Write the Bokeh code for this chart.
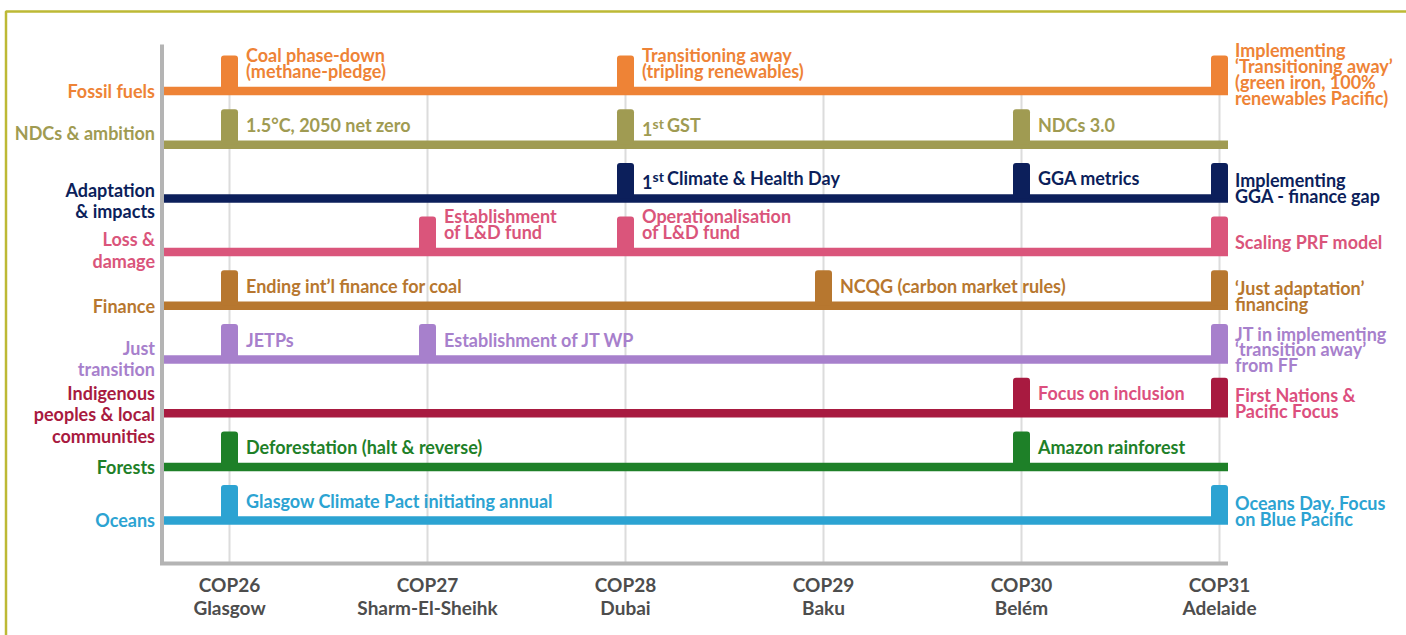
from bokeh.plotting import figure
from bokeh.models import Range1d
from bokeh.core.properties import value
from bokeh.embed import file_html
from bokeh.resources import INLINE

# ---------------- data ----------------
categories = ["Fossil fuels", "NDCs & ambition", "Adaptation\n& impacts", "Loss &\ndamage",
              "Finance", "Just\ntransition", "Indigenous\npeoples & local\ncommunities",
              "Forests", "Oceans"]
cat_colors = ["#EE8336", "#A09B52", "#0C1F5B", "#DA557B", "#B7772F",
              "#A780CC", "#A81A40", "#1E8028", "#2CA3D2"]
event_text_colors = ["#EE8336", "#A09B52", "#0C1F5B", "#DA557B", "#B7772F",
                     "#A780CC", "#DC4F7E", "#1E8028", "#2CA3D2"]

cops = [26, 27, 28, 29, 30, 31]
cop_labels = ["COP26\nGlasgow", "COP27\nSharm-El-Sheihk", "COP28\nDubai",
              "COP29\nBaku", "COP30\nBelém", "COP31\nAdelaide"]

event_cop = [26, 28, 31,
             26, 28, 30,
             28, 30, 31,
             27, 28, 31,
             26, 29, 31,
             26, 27, 31,
             30, 31,
             26, 30,
             26, 31]
event_row = [0, 0, 0,
             1, 1, 1,
             2, 2, 2,
             3, 3, 3,
             4, 4, 4,
             5, 5, 5,
             6, 6,
             7, 7,
             8, 8]
event_text = ["Coal phase-down\n(methane-pledge)", "Transitioning away\n(tripling renewables)",
              "Implementing\n\u2018Transitioning away\u2019\n(green iron, 100%\nrenewables Pacific)",
              "1.5\u00b0C, 2050 net zero", "1^st^ GST", "NDCs 3.0",
              "1^st^ Climate & Health Day", "GGA metrics", "Implementing\nGGA - finance gap",
              "Establishment\nof L&D fund", "Operationalisation\nof L&D fund", "Scaling PRF model",
              "Ending int\u2019l finance for coal", "NCQG (carbon market rules)",
              "\u2018Just adaptation\u2019\nfinancing",
              "JETPs", "Establishment of JT WP",
              "JT in implementing\n\u2018transition away\u2019\nfrom FF",
              "Focus on inclusion", "First Nations &\nPacific Focus",
              "Deforestation (halt & reverse)", "Amazon rainforest",
              "Glasgow Climate Pact initiating annual", "Oceans Day. Focus\non Blue Pacific"]

# ---------------- layout ----------------
W, H = 1406, 635
PX_X = 198.0          # pixels per COP
X0_PX = 229.0         # canvas x of first COP
PX_Y = 53.7           # pixels per row
Y0_PX = 90.5          # canvas y of first row

x_start = cops[0] - X0_PX / PX_X
x_end = x_start + W / PX_X
y_top = -Y0_PX / PX_Y
y_bot = y_top + H / PX_Y

FONT = value("Lato")
FS = "18px"
p = figure(width=W, height=H, x_range=Range1d(x_start, x_end), y_range=Range1d(y_bot, y_top),
           min_border=0, toolbar_location=None, output_backend="svg",
           x_axis_location=None, y_axis_location=None, outline_line_color=None,
           background_fill_color="white", border_fill_color="white")
p.grid.visible = False

nrows = len(categories)
rows = list(range(nrows))
axis_x = cops[0] - 67.5 / PX_X
axis_y = (nrows - 1) + 43 / PX_Y
axis_top = -46.5 / PX_Y
half_bump = 8.5 / PX_X
line_end = cops[-1] + half_bump
bump_h = 35.5 / PX_Y

# frame border
bx = x_start + 5.5 / PX_X
by = y_top + 11 / PX_Y
p.line(x=[bx, bx, x_end], y=[y_bot, by, by], line_color="#BDB935", line_width=2.5)

# vertical grid
p.segment(x0=cops, y0=[0] * len(cops), x1=cops, y1=[axis_y] * len(cops),
          line_color="#DCDCDC", line_width=2)

# baselines
p.segment(x0=[axis_x] * nrows, y0=rows, x1=[line_end] * nrows, y1=rows,
          line_color=cat_colors, line_width=8.5, line_cap="butt")

# bumps
p.quad(left=[c - half_bump for c in event_cop], right=[c + half_bump for c in event_cop],
       bottom=event_row, top=[r - bump_h for r in event_row],
       fill_color=[cat_colors[r] for r in event_row], line_color=None, border_radius=3)

# axes lines
p.segment(x0=[axis_x, axis_x - 2 / PX_X], y0=[axis_top, axis_y], x1=[axis_x, line_end],
          y1=[axis_y, axis_y], line_color="#B4B4B4", line_width=4, line_cap="butt")

# COP tick labels
p.text(x=cops, y=[axis_y] * len(cops), text=cop_labels, text_align="center",
       text_baseline="top", y_offset=9, text_font=FONT, text_font_size="19px",
       text_font_style="bold", text_color="#4D4D4D", text_line_height=1.0)

# category labels
cat_nudge = [0, -12, 2, -2, 0, -1, 1, 0, -1]
p.text(x=[axis_x] * nrows, y=rows, text=categories, x_offset=-7, y_offset=cat_nudge,
       text_align="right", text_baseline="middle", text_font=FONT, text_font_size=FS,
       text_font_style="bold", text_color=cat_colors, text_line_height=0.97)

# event labels
LBL_DX = 8.5 + 8
mid = dict(x=[], y=[], t=[], c=[], dy=[])
bot = dict(x=[], y=[], t=[], c=[])
sup_main = dict(x=[], y=[], t=[], c=[], dx=[])
for c, r, t in zip(event_cop, event_row, event_text):
    col = event_text_colors[r]
    if c == cops[-1]:
        mid["x"].append(c); mid["y"].append(r); mid["t"].append(t); mid["c"].append(col)
        mid["dy"].append(-17 if t.count("\n") >= 3 else -10)
    elif "^" in t:
        a, s, rest = t.split("^")
        sup_main["x"] += [c, c, c]; sup_main["y"] += [r, r, r]
        sup_main["t"] += [a, s, rest]; sup_main["c"] += [col] * 3
        sup_main["dx"] += [LBL_DX, LBL_DX + 10.5, LBL_DX + 25]
    else:
        bot["x"].append(c); bot["y"].append(r); bot["t"].append(t); bot["c"].append(col)

p.text(x=bot["x"], y=bot["y"], text=bot["t"], x_offset=LBL_DX, y_offset=-9,
       text_align="left", text_baseline="bottom", text_font=FONT, text_font_size=FS,
       text_font_style="bold", text_color=bot["c"], text_line_height=0.72)
p.text(x=mid["x"], y=mid["y"], text=mid["t"], x_offset=LBL_DX - 1, y_offset=mid["dy"],
       text_align="left", text_baseline="middle", text_font=FONT, text_font_size=FS,
       text_font_style="bold", text_color=mid["c"], text_line_height=0.72)
# superscript pieces
main_idx = [i for i in range(len(sup_main["t"])) if i % 3 != 1]
sup_idx = [i for i in range(len(sup_main["t"])) if i % 3 == 1]
p.text(x=[sup_main["x"][i] for i in main_idx], y=[sup_main["y"][i] for i in main_idx],
       text=[sup_main["t"][i] for i in main_idx], x_offset=[sup_main["dx"][i] for i in main_idx],
       y_offset=-9, text_align="left", text_baseline="bottom", text_font=FONT,
       text_font_size=FS, text_font_style="bold",
       text_color=[sup_main["c"][i] for i in main_idx])
p.text(x=[sup_main["x"][i] for i in sup_idx], y=[sup_main["y"][i] for i in sup_idx],
       text=[sup_main["t"][i] for i in sup_idx], x_offset=[sup_main["dx"][i] for i in sup_idx],
       y_offset=-13, text_align="left", text_baseline="bottom", text_font=FONT,
       text_font_size="14px", text_font_style="bold",
       text_color=[sup_main["c"][i] for i in sup_idx])

open("out.html", "w").write(file_html(p, INLINE))
